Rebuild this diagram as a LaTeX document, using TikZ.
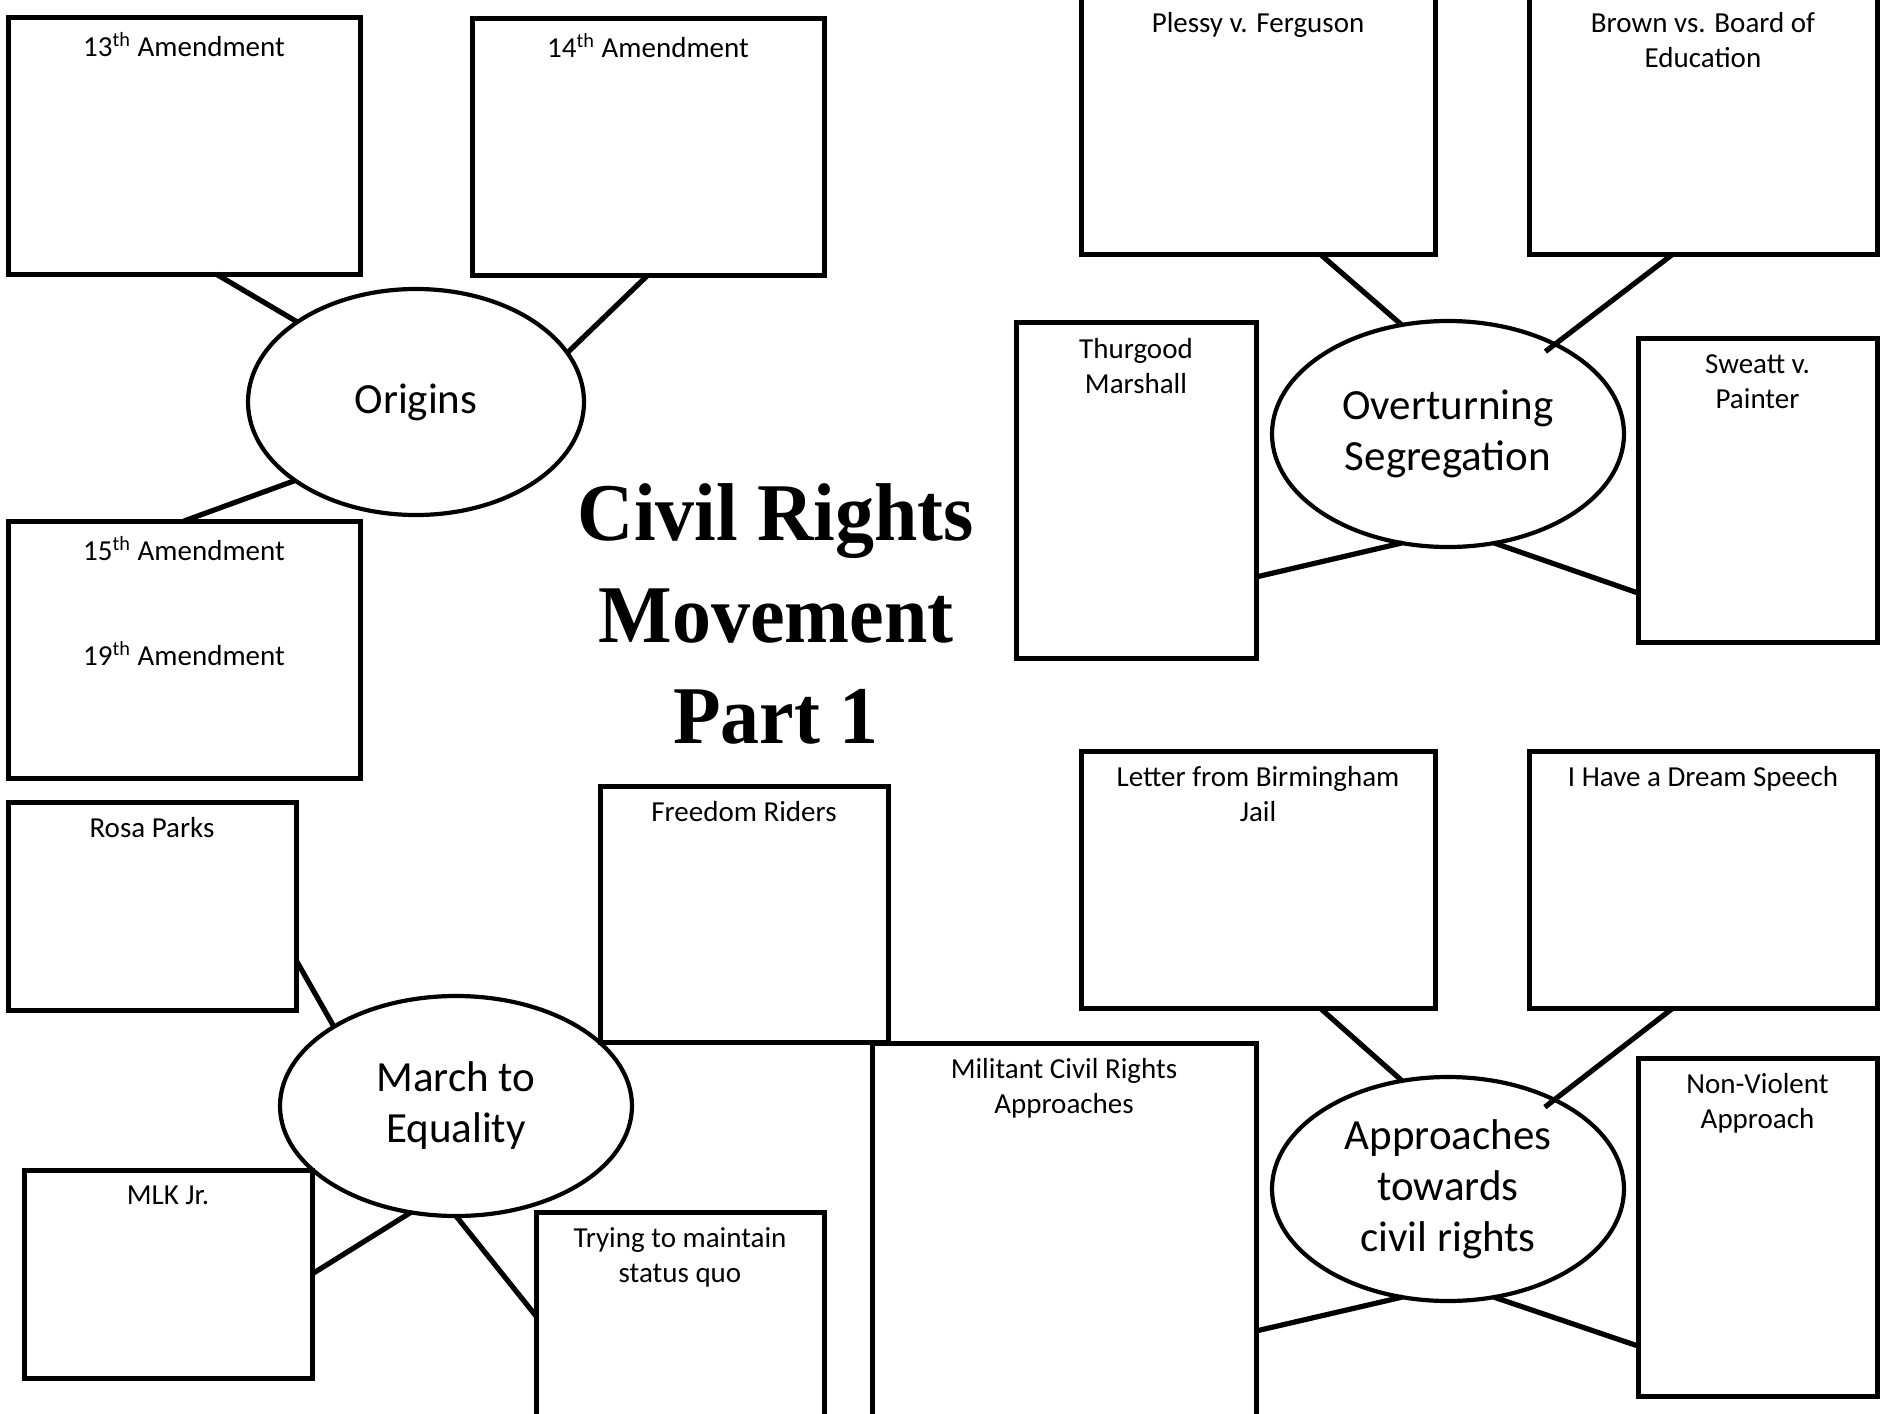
\documentclass[tikz,border=0pt]{standalone}
\usepackage{fontspec}
\setmainfont{Carlito}
\newfontfamily\titlefont[FakeStretch=0.95]{Liberation Serif}
\usetikzlibrary{positioning,shapes.geometric}

\begin{document}
\begin{tikzpicture}[x=0.5pt,y=-0.5pt,
    block_box/.style ={rectangle, draw=black, line width=2.5pt,
      anchor=north west, inner sep=0pt, outer sep=0pt},
    block_hub/.style ={ellipse, draw=black, line width=2.1pt,
      inner sep=0pt, outer sep=0pt, align=center,
      font=\fontsize{21.5}{25.5}\selectfont},
    block_text/.style ={inner sep=0pt, align=center,
      font=\fontsize{14.5}{17.5}\selectfont},
    line/.style ={draw, line width=2.6pt}]
    \path[use as bounding box, fill=white] (0,0) rectangle (1881,1414);
    % title
    \node[font=\titlefont\bfseries\fontsize{41}{50.7}\selectfont, align=center]
      (title) at (776,614) {Civil Rights\\Movement\\Part 1};
    % origins - top left
    \node[block_hub, minimum width=168pt, minimum height=113pt] (origins) at (416,402) {Origins};
    \node[block_box, minimum width=176pt, minimum height=128.5pt] (am13) at (8,17) {};
    \node[block_text, below=7.5pt of am13.north] (am13txt) {13\textsuperscript{th} Amendment};
    \node[block_box, minimum width=176pt, minimum height=128.5pt] (am14) at (472,18) {};
    \node[block_text, below=7.5pt of am14.north] (am14txt) {14\textsuperscript{th} Amendment};
    \node[block_box, minimum width=176pt, minimum height=128.5pt] (am15) at (8,521) {};
    \node[block_text, below=7.5pt of am15.north] (am15txt)
      {15\textsuperscript{th} Amendment\\[35pt]19\textsuperscript{th} Amendment};
    % overturning segregation - top right
    \node[block_hub, minimum width=176pt, minimum height=113pt] (overturn) at (1448,434) {Overturning\\Segregation};
    \node[block_box, minimum width=177pt, minimum height=129.5pt] (plessy) at (1081,-5) {};
    \node[block_text, below=8.5pt of plessy.north] (plessytxt) {Plessy v. Ferguson};
    \node[block_box, minimum width=174pt, minimum height=129.5pt] (brown) at (1529,-5) {};
    \node[block_text, below=8.5pt of brown.north] (browntxt) {Brown vs. Board of\\Education};
    \node[block_box, minimum width=120pt, minimum height=168pt] (marshall) at (1016,322) {};
    \node[block_text, below=8pt of marshall.north] (marshalltxt) {Thurgood\\Marshall};
    \node[block_box, minimum width=119.5pt, minimum height=152pt] (sweatt) at (1638,338) {};
    \node[block_text, below=8pt of sweatt.north] (sweatttxt) {Sweatt v.\\Painter};
    % march to equality - bottom left
    \node[block_hub, minimum width=176pt, minimum height=110pt] (march) at (456,1106) {March to\\Equality};
    \node[block_box, minimum width=144pt, minimum height=104pt] (rosa) at (8,802) {};
    \node[block_text, below=7.5pt of rosa.north] (rosatxt) {Rosa Parks};
    \node[block_box, minimum width=144pt, minimum height=128pt] (riders) at (600,786) {};
    \node[block_text, below=7.5pt of riders.north] (riderstxt) {Freedom Riders};
    \node[block_box, minimum width=144pt, minimum height=104pt] (mlk) at (24,1170) {};
    \node[block_text, below=7.5pt of mlk.north] (mlktxt) {MLK Jr.};
    \node[block_box, minimum width=144pt, minimum height=106pt] (statusquo) at (536,1212) {};
    \node[block_text, below=7.5pt of statusquo.north] (statusquotxt) {Trying to maintain\\status quo};
    % approaches - bottom right
    \node[block_hub, minimum width=176pt, minimum height=112pt] (approach) at (1448,1189) {Approaches\\towards\\civil rights};
    \node[block_box, minimum width=192pt, minimum height=190.5pt] (militant) at (872,1043) {};
    \node[block_text, below=7.5pt of militant.north] (militanttxt) {Militant Civil Rights\\Approaches};
    \node[block_box, minimum width=177pt, minimum height=128.5pt] (letter) at (1081,751) {};
    \node[block_text, below=7.5pt of letter.north] (lettertxt) {Letter from Birmingham\\Jail};
    \node[block_box, minimum width=174pt, minimum height=128.5pt] (dream) at (1529,751) {};
    \node[block_text, below=7.5pt of dream.north] (dreamtxt) {I Have a Dream Speech};
    \node[block_box, minimum width=119.5pt, minimum height=169pt] (nonviolent) at (1638,1058) {};
    \node[block_text, below=7.5pt of nonviolent.north] (nonviolenttxt) {Non-Violent\\Approach};
    % connecting boxes with the hubs
    \begin{scope}[every path/.style=line]
     \path ([xshift=16pt]am13.south) -- (origins.146);
     \path (am14.south) -- (origins.18);
     \path (origins.213) -- (am15.north);
     \path ([xshift=31pt]plessy.south) -- (overturn.113);
     \path[shorten >=-6pt] ([xshift=-15pt]brown.south) -- (overturn.40);
     \path (overturn.247) -- ([yshift=-43.5pt]marshall.east);
     \path (overturn.293) -- ([yshift=-51.5pt]sweatt.west);
     \path ([yshift=-27pt]rosa.east) -- (march.147);
     \path (march.247) -- (mlk.east);
     \path (march.south) -- ([yshift=1pt]statusquo.west);
     \path ([xshift=31pt]letter.south) -- (approach.113);
     \path[shorten >=-6pt] ([xshift=-15pt]dream.south) -- (approach.40);
     \path (approach.247) -- ([yshift=-48.75pt]militant.east);
     \path (approach.293) -- ([yshift=-59.5pt]nonviolent.west);
    \end{scope}
\end{tikzpicture}
\end{document}
